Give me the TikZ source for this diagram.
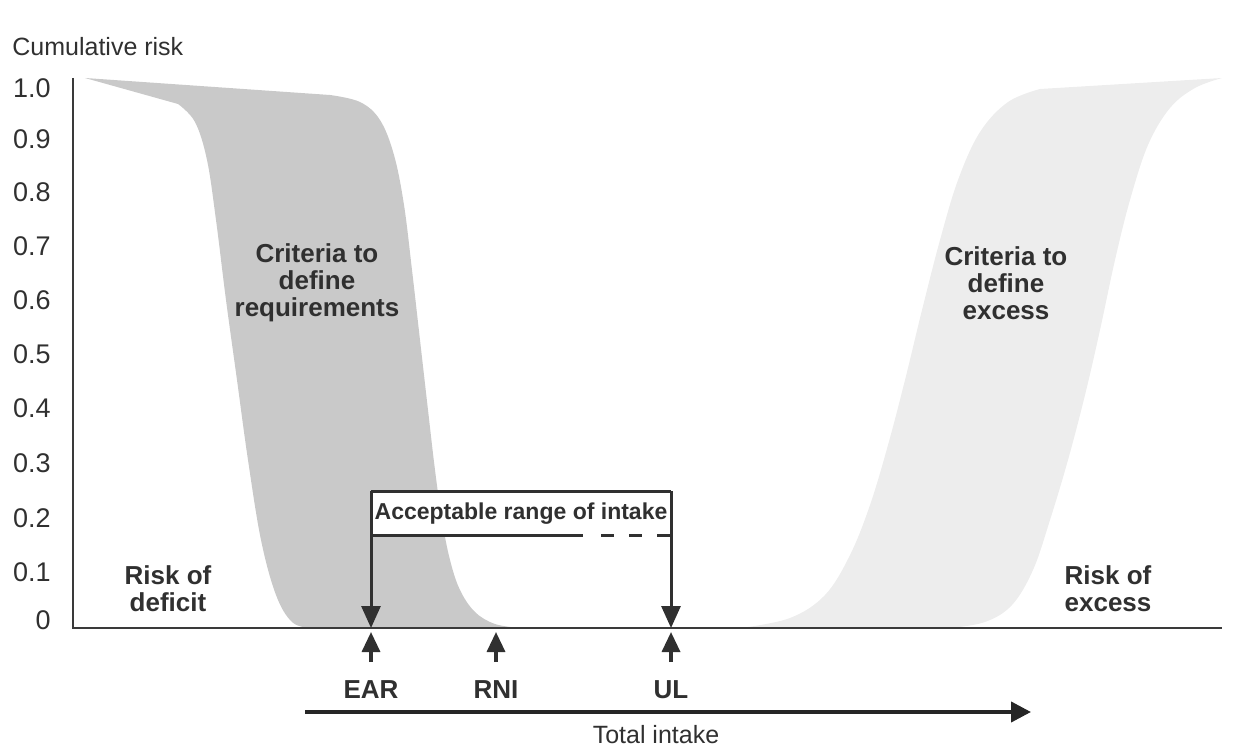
\documentclass[tikz,border=0pt]{standalone}
\usepackage{fontspec}
\setmainfont{Liberation Sans}
\usetikzlibrary{arrows.meta}
\definecolor{ink}{HTML}{303030}
\definecolor{axisc}{HTML}{3A3A3A}
\definecolor{darkband}{HTML}{C9C9C9}
\definecolor{lightband}{HTML}{EDEDED}
\begin{document}
\begin{tikzpicture}[x=0.5pt,y=-0.5pt,
  ticklab/.style={font=\fontsize{13.5}{14}\selectfont, text=ink, anchor=east, inner sep=0pt},
  bandlab/.style={font=\fontsize{13}{13.5}\selectfont\bfseries, text=ink, align=center, inner sep=0pt},
  marklab/.style={font=\fontsize{13}{13}\selectfont\bfseries, text=ink, inner sep=0pt},
  plainlab/.style={font=\fontsize{12.5}{13}\selectfont, text=ink, inner sep=0pt},
  axisline/.style={draw=axisc, line width=1.1pt},
  bracket/.style={draw=ink, line width=1.5pt},
  downarr/.style={bracket, -{Triangle[width=9.5pt,length=11pt]}},
  uparr/.style={draw=ink, line width=1.7pt, -{Triangle[width=9pt,length=10pt]}},
  intakearr/.style={draw=black!85, line width=2pt, -{Triangle[width=10pt,length=10pt]}}]
\useasboundingbox (0,0) rectangle (1242,748);

% bands
\fill[darkband] (85,78) -- (178,104)
  -- plot[smooth, tension=0.6] coordinates {(178,104) (195,122) (207,160) (216,220) (226,300) (237,380) (248,460) (261,540) (276,595) (292,622) (310,628)}
  -- (520,628)
  -- plot[smooth, tension=0.6] coordinates {(520,628) (495,624) (475,612) (460,590) (450,560) (442,520) (435,470) (428,410) (420,340) (412,270) (404,205) (394,155) (380,120) (360,102) (330,95)}
  -- cycle;
\fill[lightband] (741,628)
  -- plot[smooth, tension=0.6] coordinates {(741,628) (790,618) (825,595) (850,555) (870,505) (888,445) (905,380) (922,310) (940,240) (958,180) (980,132) (1008,102) (1040,89)}
  -- (1222,78)
  -- plot[smooth, tension=0.6] coordinates {(1222,78) (1195,88) (1170,108) (1148,145) (1130,200) (1115,260) (1100,330) (1085,395) (1068,460) (1050,520) (1033,570) (1012,605) (985,622) (950,628)}
  -- cycle;

% axes
\coordinate (ytop) at (73,78);
\coordinate (origin) at (73,628);
\coordinate (xend) at (1222,628);
\draw[axisline] (ytop) -- (origin) -- (xend);

\node[plainlab, anchor=west] (ytitle) at (12,47) {Cumulative risk};
\node[ticklab] (t10) at (51,88) {1.0};
\node[ticklab] (t09) at (51,139) {0.9};
\node[ticklab] (t08) at (51,192) {0.8};
\node[ticklab] (t07) at (51,246) {0.7};
\node[ticklab] (t06) at (51,300) {0.6};
\node[ticklab] (t05) at (51,354) {0.5};
\node[ticklab] (t04) at (51,408) {0.4};
\node[ticklab] (t03) at (51,463) {0.3};
\node[ticklab] (t02) at (51,518) {0.2};
\node[ticklab] (t01) at (51,572) {0.1};
\node[ticklab] (t00) at (51,620) {0};

% band labels
\node[bandlab] (req) at (317,283) {Criteria to\\define\\requirements};
\node[bandlab] (exc) at (1006,283) {Criteria to\\define\\excess};
\node[bandlab] (deficit) at (168,589) {Risk of\\deficit};
\node[bandlab] (excess) at (1108,589) {Risk of\\excess};

% acceptable range bracket
\coordinate (bl) at (371,491);
\coordinate (br) at (671,491);
\coordinate (ll) at (371,535);
\coordinate (lm) at (583,535);
\coordinate (ld) at (601,535);
\coordinate (lr) at (671,535);
\coordinate (earTop) at (371,628);
\coordinate (ulTop) at (671,628);
\fill[white] (bl) rectangle (lr);
\draw[bracket] (bl) -- (br);
\draw[bracket] (ll) -- (lm);
\draw[bracket, dash pattern=on 6.5pt off 7.5pt] (ld) -- (lr);
\draw[downarr] (bl) -- (earTop);
\draw[downarr] (br) -- (ulTop);
\node[font=\fontsize{11.5}{12}\selectfont\bfseries, text=ink, inner sep=0pt] (acc) at (521,514) {Acceptable range of intake};

% markers below axis
\coordinate (earTip) at (371,632);
\coordinate (earTail) at (371,662);
\coordinate (rniTip) at (496,632);
\coordinate (rniTail) at (496,662);
\coordinate (ulTip) at (671,632);
\coordinate (ulTail) at (671,662);
\draw[uparr] (earTail) -- (earTip);
\draw[uparr] (rniTail) -- (rniTip);
\draw[uparr] (ulTail) -- (ulTip);
\node[marklab] (ear) at (371,690) {EAR};
\node[marklab] (rni) at (496,690) {RNI};
\node[marklab] (ul) at (671,690) {UL};

% total intake arrow
\coordinate (ti0) at (305,712);
\coordinate (ti1) at (1031,712);
\draw[intakearr] (ti0) -- (ti1);
\node[plainlab] (tilab) at (656,735) {Total intake};
\end{tikzpicture}
\end{document}
